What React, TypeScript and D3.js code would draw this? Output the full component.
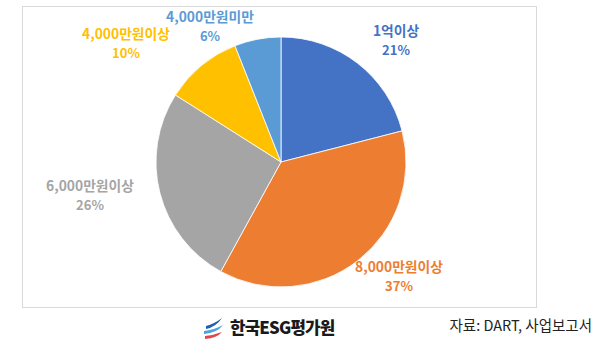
import { useEffect, useRef } from "react";
import * as d3 from "d3";

const categories = ["1억이상", "8,000만원이상", "6,000만원이상", "4,000만원이상", "4,000만원미만"];
const shares = [21, 37, 26, 10, 6];
const colors = ["#4472C4", "#ED7D31", "#A5A5A5", "#FFC000", "#5B9BD5"];
// label anchor points (centre of the two-line label)
const labelPos: [number, number][] = [
  [396, 40],
  [399, 276],
  [90, 195],
  [126, 43],
  [210, 26],
];

const FONT = "'Noto Sans CJK KR', 'Noto Sans', sans-serif";

export default function App() {
  const ref = useRef<SVGSVGElement | null>(null);

  useEffect(() => {
    const svg = d3.select(ref.current);
    svg.selectAll("*").remove();

    const cx = 281, cy = 162, r = 125;

    svg.append("rect").attr("width", 600).attr("height", 351).attr("fill", "#fff");

    // chart frame
    svg.append("rect")
      .attr("x", 22.5).attr("y", 6.5)
      .attr("width", 514).attr("height", 301)
      .attr("fill", "#fff")
      .attr("stroke", "#d9d9d9")
      .attr("stroke-width", 1);

    const pie = d3.pie<number>().sort(null).value((d) => d);
    const arcs = pie(shares);
    const arc = d3.arc<d3.PieArcDatum<number>>().innerRadius(0).outerRadius(r);

    const g = svg.append("g").attr("transform", `translate(${cx},${cy})`);
    g.selectAll("path")
      .data(arcs)
      .join("path")
      .attr("d", arc)
      .attr("fill", (_, i) => colors[i])
      .attr("stroke", "#fff")
      .attr("stroke-width", 0.8);

    const labels = svg.selectAll("g.lbl")
      .data(arcs)
      .join("g")
      .attr("class", "lbl")
      .attr("transform", (_, i) => `translate(${labelPos[i][0]},${labelPos[i][1]})`);

    labels.append("text")
      .attr("text-anchor", "middle")
      .attr("y", -4)
      .attr("font-family", FONT)
      .attr("font-weight", 700)
      .attr("font-size", 13.8)
      .attr("fill", (_, i) => colors[i])
      .text((_, i) => categories[i]);

    labels.append("text")
      .attr("text-anchor", "middle")
      .attr("y", 15)
      .attr("font-family", FONT)
      .attr("font-weight", 700)
      .attr("font-size", 13)
      .attr("fill", (_, i) => colors[i])
      .text((d) => `${d.data}%`);

    // logo
    const logo = svg.append("g").attr("transform", "translate(204,318)");
    const waves = [
      { d: "M2,8 Q10,6 18,0 Q12,9 2,11 Z", c: "#1f5fb0" },
      { d: "M0,13 Q10,12 19,7 Q13,15 0,16 Z", c: "#4aa3df" },
      { d: "M1,18 Q10,17 18,14 Q13,20 1,21 Z", c: "#e0464b" },
    ];
    logo.selectAll("path").data(waves).join("path").attr("d", (d) => d.d).attr("fill", (d) => d.c);

    svg.append("text")
      .attr("x", 230).attr("y", 334)
      .attr("font-family", FONT)
      .attr("font-weight", 900)
      .attr("font-size", 16.8)
      .attr("letter-spacing", -0.8)
      .attr("fill", "#1a1a1a")
      .text("한국ESG평가원");

    svg.append("text")
      .attr("x", 592).attr("y", 331)
      .attr("text-anchor", "end")
      .attr("font-family", FONT)
      .attr("font-size", 14.5)
      .attr("fill", "#222")
      .text("자료: DART, 사업보고서");
  }, []);

  return (
    <svg
      ref={ref}
      width={600}
      height={351}
      style={{ position: "absolute", left: 0, top: 0, display: "block" }}
    />
  );
}
